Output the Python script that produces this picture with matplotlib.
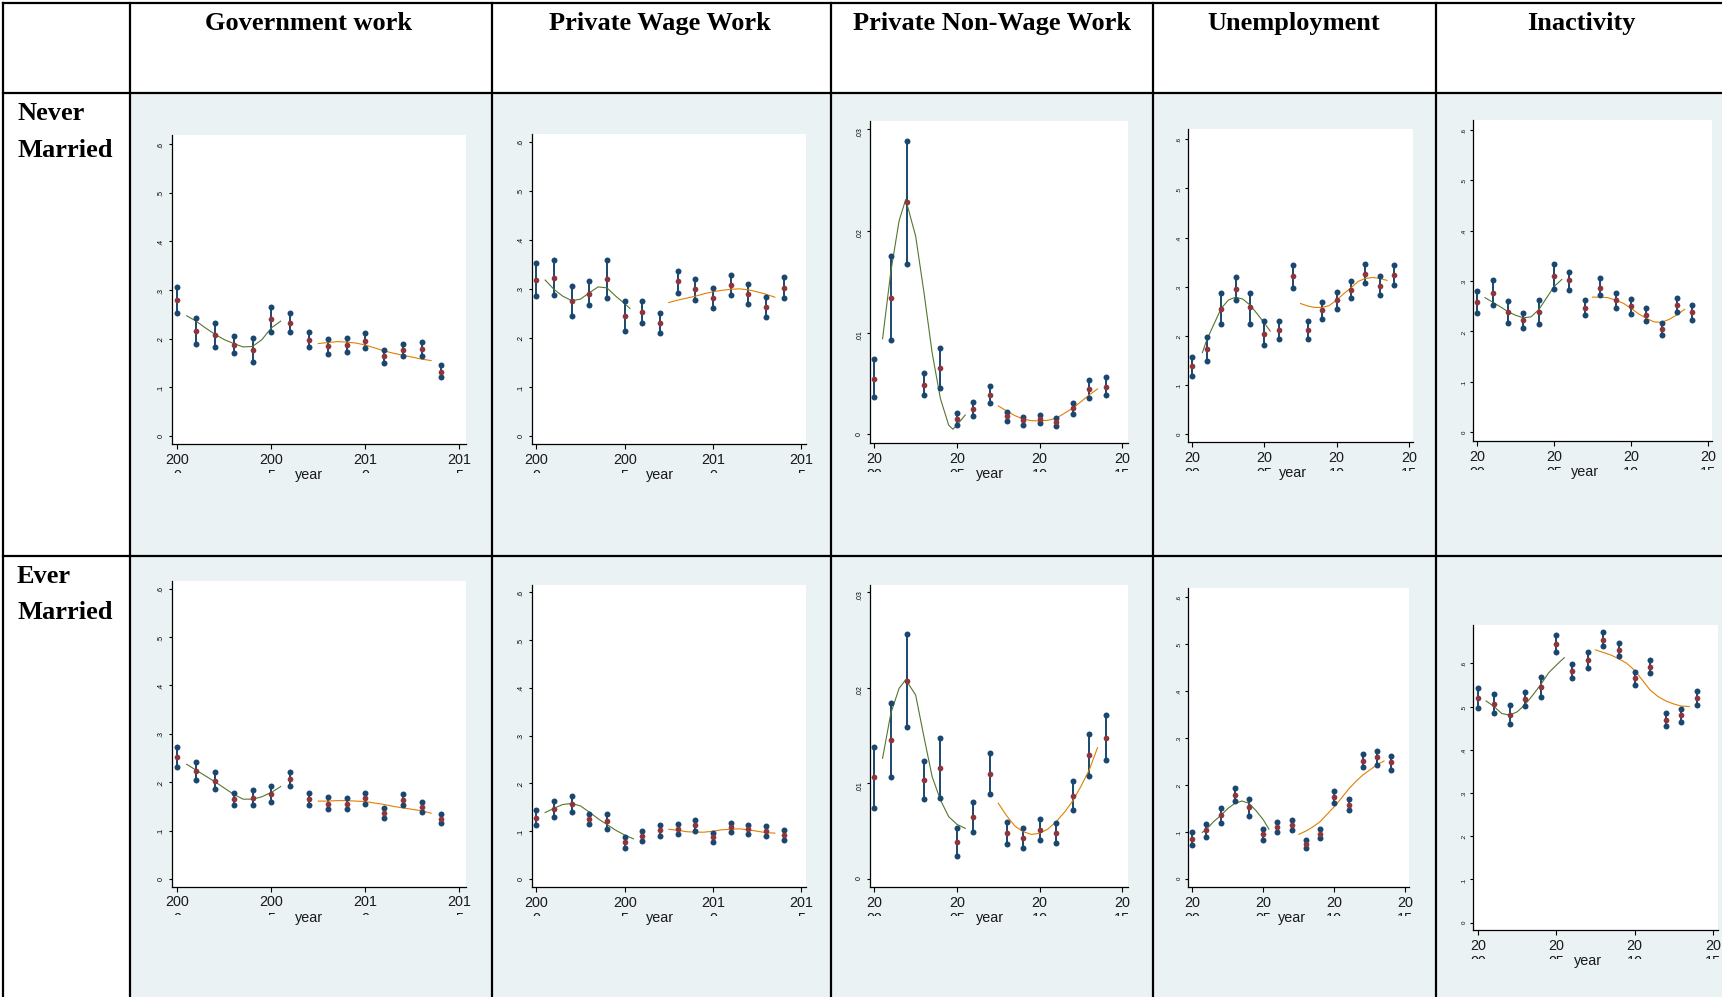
import matplotlib
matplotlib.use('Agg')
import matplotlib.pyplot as plt
from matplotlib.lines import Line2D
from matplotlib.patches import Rectangle
from matplotlib.transforms import offset_copy, Bbox, TransformedBbox, IdentityTransform

W, H = 1722, 997

years = [2000, 2001, 2002, 2003, 2004, 2005, 2006, 2007, 2008, 2009, 2010, 2011, 2012, 2013, 2014]
half_a = [2000.5, 2001, 2001.5, 2002, 2002.5, 2003, 2003.5, 2004, 2004.5, 2005, 2005.5]
half_b = [2007.5, 2008, 2008.5, 2009, 2009.5, 2010, 2010.5, 2011, 2011.5, 2012, 2012.5, 2013, 2013.5]

col_titles = ['Government work', 'Private Wage Work', 'Private Non-Wage Work', 'Unemployment', 'Inactivity']
row_titles = [['Never', 'Married'], ['Ever', 'Married']]

# ---- never married ----
gov_nm_lo = [0.252, 0.190, 0.182, 0.171, 0.152, 0.214, 0.214, 0.182, 0.169, 0.173, 0.180, 0.151, 0.164, 0.164, 0.121]
gov_nm_est = [0.279, 0.216, 0.208, 0.188, 0.177, 0.240, 0.233, 0.198, 0.184, 0.187, 0.196, 0.164, 0.177, 0.179, 0.132]
gov_nm_hi = [0.307, 0.242, 0.232, 0.205, 0.202, 0.265, 0.252, 0.214, 0.199, 0.202, 0.212, 0.176, 0.190, 0.194, 0.145]
gov_nm_fit_a = [0.247, 0.236, 0.222, 0.209, 0.198, 0.190, 0.183, 0.184, 0.198, 0.222, 0.236]
gov_nm_fit_b = [0.190, 0.192, 0.194, 0.193, 0.191, 0.187, 0.181, 0.175, 0.170, 0.166, 0.162, 0.158, 0.155]

pw_nm_lo = [0.285, 0.287, 0.245, 0.267, 0.282, 0.215, 0.231, 0.210, 0.292, 0.277, 0.260, 0.287, 0.270, 0.243, 0.281]
pw_nm_est = [0.319, 0.323, 0.276, 0.290, 0.321, 0.245, 0.253, 0.230, 0.315, 0.299, 0.281, 0.308, 0.289, 0.263, 0.302]
pw_nm_hi = [0.352, 0.359, 0.306, 0.315, 0.359, 0.275, 0.276, 0.251, 0.337, 0.321, 0.302, 0.329, 0.309, 0.283, 0.324]
pw_nm_fit_a_x = [2000.5, 2001, 2001.5, 2002, 2002.5, 2003, 2003.5, 2004, 2004.5, 2005, 2005.3]
pw_nm_fit_a = [0.318, 0.299, 0.285, 0.276, 0.279, 0.292, 0.304, 0.302, 0.285, 0.270, 0.260]
pw_nm_fit_b = [0.272, 0.277, 0.281, 0.285, 0.290, 0.294, 0.297, 0.299, 0.300, 0.298, 0.294, 0.289, 0.283]

pnw_nm_lo = [0.00364, 0.00925, 0.01675, 0.00384, 0.00452, 0.00089, 0.00184, 0.00305, 0.00131, 0.00092, 0.00108, 0.00082, 0.00203, 0.00361, 0.00387]
pnw_nm_est = [0.00548, 0.01338, 0.02282, 0.00489, 0.00649, 0.00148, 0.00246, 0.00387, 0.00177, 0.00138, 0.00148, 0.00125, 0.00256, 0.00446, 0.00469]
pnw_nm_hi = [0.00741, 0.01751, 0.02889, 0.00600, 0.00852, 0.00207, 0.00315, 0.00472, 0.00223, 0.00174, 0.00190, 0.00157, 0.00311, 0.00534, 0.00561]
pnw_nm_fit_a_x = [2000.5, 2001, 2001.5, 2001.9, 2002.5, 2003, 2003.5, 2004, 2004.5, 2004.75, 2005, 2005.5]
pnw_nm_fit_a = [0.0094, 0.0160, 0.0210, 0.0231, 0.0195, 0.0140, 0.0080, 0.0035, 0.0009, 0.0005, 0.0009, 0.0019]
pnw_nm_fit_b = [0.00279, 0.00230, 0.00184, 0.00151, 0.00134, 0.00131, 0.00138, 0.00157, 0.00207, 0.00256, 0.00321, 0.00387, 0.00446]

un_nm_lo = [0.119, 0.149, 0.224, 0.273, 0.225, 0.181, 0.193, 0.298, 0.193, 0.234, 0.254, 0.277, 0.308, 0.283, 0.304]
un_nm_est = [0.138, 0.173, 0.255, 0.296, 0.258, 0.205, 0.212, 0.321, 0.212, 0.252, 0.273, 0.294, 0.327, 0.302, 0.323]
un_nm_hi = [0.158, 0.197, 0.288, 0.319, 0.288, 0.231, 0.231, 0.344, 0.231, 0.270, 0.290, 0.312, 0.346, 0.321, 0.344]
un_nm_fit_a_x = [2000.7, 2001, 2001.5, 2002, 2002.5, 2003, 2003.5, 2004, 2004.5, 2005, 2005.4]
un_nm_fit_a = [0.166, 0.192, 0.224, 0.256, 0.273, 0.279, 0.275, 0.263, 0.245, 0.226, 0.210]
un_nm_fit_b = [0.266, 0.261, 0.258, 0.258, 0.262, 0.273, 0.286, 0.298, 0.311, 0.317, 0.319, 0.317, 0.313]

in_nm_lo = [0.237, 0.252, 0.217, 0.207, 0.215, 0.285, 0.283, 0.233, 0.272, 0.247, 0.235, 0.221, 0.192, 0.239, 0.223]
in_nm_est = [0.259, 0.276, 0.239, 0.222, 0.238, 0.309, 0.301, 0.247, 0.287, 0.262, 0.250, 0.233, 0.204, 0.252, 0.238]
in_nm_hi = [0.281, 0.301, 0.261, 0.237, 0.262, 0.333, 0.317, 0.263, 0.305, 0.276, 0.264, 0.246, 0.216, 0.267, 0.252]
in_nm_fit_a = [0.267, 0.258, 0.249, 0.239, 0.232, 0.227, 0.229, 0.243, 0.266, 0.289, 0.303]
in_nm_fit_b = [0.268, 0.268, 0.267, 0.262, 0.256, 0.246, 0.235, 0.226, 0.219, 0.218, 0.224, 0.233, 0.244]

# ---- ever married ----
gov_em_lo = [0.232, 0.205, 0.185, 0.153, 0.152, 0.159, 0.193, 0.152, 0.144, 0.144, 0.156, 0.127, 0.152, 0.138, 0.116]
gov_em_est = [0.252, 0.223, 0.203, 0.165, 0.168, 0.176, 0.206, 0.165, 0.156, 0.156, 0.167, 0.136, 0.163, 0.149, 0.125]
gov_em_hi = [0.273, 0.242, 0.221, 0.177, 0.184, 0.192, 0.221, 0.178, 0.169, 0.167, 0.178, 0.146, 0.176, 0.160, 0.135]
gov_em_fit_a = [0.237, 0.225, 0.213, 0.201, 0.188, 0.175, 0.165, 0.165, 0.170, 0.179, 0.191]
gov_em_fit_b = [0.161, 0.161, 0.162, 0.162, 0.161, 0.160, 0.157, 0.154, 0.150, 0.147, 0.144, 0.141, 0.136]

pw_em_lo = [0.113, 0.130, 0.140, 0.115, 0.105, 0.065, 0.080, 0.090, 0.094, 0.100, 0.077, 0.098, 0.094, 0.089, 0.082]
pw_em_est = [0.128, 0.147, 0.158, 0.126, 0.121, 0.077, 0.091, 0.102, 0.105, 0.112, 0.087, 0.108, 0.104, 0.100, 0.093]
pw_em_hi = [0.144, 0.164, 0.173, 0.137, 0.137, 0.088, 0.101, 0.113, 0.116, 0.123, 0.096, 0.118, 0.114, 0.110, 0.102]
pw_em_fit_a = [0.139, 0.148, 0.156, 0.158, 0.153, 0.140, 0.126, 0.114, 0.102, 0.092, 0.084]
pw_em_fit_b = [0.104, 0.102, 0.099, 0.098, 0.098, 0.100, 0.103, 0.104, 0.105, 0.103, 0.100, 0.097, 0.096]

pnw_em_lo = [0.00747, 0.01064, 0.01587, 0.00834, 0.00851, 0.00244, 0.00495, 0.00890, 0.00366, 0.00321, 0.00405, 0.00380, 0.00722, 0.01078, 0.01242]
pnw_em_est = [0.01064, 0.01451, 0.02072, 0.01033, 0.01165, 0.00387, 0.00649, 0.01102, 0.00481, 0.00426, 0.00516, 0.00481, 0.00869, 0.01298, 0.01479]
pnw_em_hi = [0.01385, 0.01845, 0.02560, 0.01235, 0.01479, 0.00530, 0.00802, 0.01319, 0.00600, 0.00537, 0.00624, 0.00583, 0.01022, 0.01514, 0.01713]
pnw_em_fit_a_x = [2000.5, 2001, 2001.5, 2001.9, 2002.5, 2003, 2003.5, 2004, 2004.5, 2005, 2005.5]
pnw_em_fit_a = [0.01263, 0.01734, 0.01995, 0.02085, 0.01926, 0.01490, 0.01070, 0.00827, 0.00652, 0.00572, 0.00530]
pnw_em_fit_b = [0.00792, 0.00663, 0.00555, 0.00495, 0.00467, 0.00478, 0.00523, 0.00600, 0.00698, 0.00816, 0.00970, 0.01141, 0.01374]

un_em_lo = [0.073, 0.089, 0.120, 0.166, 0.135, 0.082, 0.100, 0.104, 0.067, 0.087, 0.162, 0.146, 0.239, 0.243, 0.232]
un_em_est = [0.086, 0.104, 0.136, 0.179, 0.153, 0.095, 0.111, 0.115, 0.074, 0.096, 0.174, 0.158, 0.252, 0.259, 0.248]
un_em_hi = [0.099, 0.116, 0.152, 0.193, 0.170, 0.107, 0.121, 0.126, 0.083, 0.106, 0.187, 0.170, 0.267, 0.273, 0.262]
un_em_fit_a_x = [2000.7, 2001, 2001.5, 2002, 2002.5, 2003, 2003.5, 2004, 2004.5, 2005, 2005.4]
un_em_fit_a = [0.099, 0.106, 0.122, 0.135, 0.150, 0.161, 0.166, 0.161, 0.145, 0.126, 0.106]
un_em_fit_b = [0.095, 0.102, 0.111, 0.122, 0.138, 0.154, 0.172, 0.191, 0.207, 0.221, 0.232, 0.243, 0.251]

in_em_lo = [0.497, 0.485, 0.459, 0.502, 0.522, 0.625, 0.567, 0.590, 0.640, 0.616, 0.550, 0.578, 0.455, 0.464, 0.503]
in_em_est = [0.519, 0.507, 0.481, 0.518, 0.545, 0.645, 0.583, 0.607, 0.655, 0.631, 0.565, 0.592, 0.470, 0.480, 0.520]
in_em_hi = [0.542, 0.530, 0.503, 0.533, 0.569, 0.665, 0.599, 0.625, 0.672, 0.646, 0.581, 0.607, 0.484, 0.495, 0.536]
in_em_fit_a = [0.513, 0.500, 0.484, 0.480, 0.488, 0.505, 0.527, 0.551, 0.578, 0.596, 0.613]
in_em_fit_b = [0.631, 0.625, 0.619, 0.610, 0.600, 0.584, 0.561, 0.538, 0.523, 0.513, 0.506, 0.501, 0.500]

share_ticks = [0, 0.1, 0.2, 0.3, 0.4, 0.5, 0.6]
share_labels = ['0', '.1', '.2', '.3', '.4', '.5', '.6']
small_ticks = [0, 0.01, 0.02, 0.03]
small_labels = ['0', '.01', '.02', '.03']
xlab_long = (['200', '200', '201', '201'], ['0', '5', '0', '5'])
xlab_short = (['20', '20', '20', '20'], ['00', '05', '10', '15'])

NAVY = '#1a476f'
MAROON = '#90353b'
GREEN = '#55752f'
ORANGE = '#e37e00'
PANEL_BG = '#eaf2f3'

# page layout in pixels (from top-left)
col_x = [3, 130, 492, 831, 1153, 1436]
row_y = [3, 93, 556, 997]
col_centres = [309, 660, 992, 1294, 1581]

# per panel: plot area (left, top, right, bottom), pixel of x=2000 / x=2015,
# pixel of y=0 / top tick, top tick value, ylabel size
layout = [
    [((171.7, 135, 465.7, 444.3), (177.3, 459.3), (436, 144), 0.6, 5.2),
     ((531.7, 134, 806, 444.3), (536.3, 801.3), (436, 141.7), 0.6, 5.2),
     ((870, 121, 1127.7, 443.3), (874.3, 1122.3), (434.3, 129.3), 0.03, 5.0),
     ((1188.3, 129.3, 1413, 442.3), (1192.3, 1408.7), (434.3, 139.3), 0.6, 4.4),
     ((1473.3, 120, 1711.7, 441), (1477.3, 1707.7), (432.3, 129.7), 0.6, 4.4)],
    [((171.7, 580.7, 465.7, 886.7), (177.3, 459.3), (879, 588.7), 0.6, 5.2),
     ((531.7, 585, 806, 887.3), (536.3, 801.3), (879, 592.3), 0.6, 5.2),
     ((870, 585, 1127.7, 887.3), (874.3, 1122.3), (879, 592.3), 0.03, 5.0),
     ((1188.3, 588.3, 1409, 887.3), (1192.3, 1405.3), (879, 597), 0.6, 4.4),
     ((1473.3, 625, 1717.7, 930), (1478.3, 1712.7), (922.7, 663.3), 0.6, 4.4)],
]

panels = [
    [(gov_nm_lo, gov_nm_est, gov_nm_hi, half_a, gov_nm_fit_a, gov_nm_fit_b),
     (pw_nm_lo, pw_nm_est, pw_nm_hi, pw_nm_fit_a_x, pw_nm_fit_a, pw_nm_fit_b),
     (pnw_nm_lo, pnw_nm_est, pnw_nm_hi, pnw_nm_fit_a_x, pnw_nm_fit_a, pnw_nm_fit_b),
     (un_nm_lo, un_nm_est, un_nm_hi, un_nm_fit_a_x, un_nm_fit_a, un_nm_fit_b),
     (in_nm_lo, in_nm_est, in_nm_hi, half_a, in_nm_fit_a, in_nm_fit_b)],
    [(gov_em_lo, gov_em_est, gov_em_hi, half_a, gov_em_fit_a, gov_em_fit_b),
     (pw_em_lo, pw_em_est, pw_em_hi, half_a, pw_em_fit_a, pw_em_fit_b),
     (pnw_em_lo, pnw_em_est, pnw_em_hi, pnw_em_fit_a_x, pnw_em_fit_a, pnw_em_fit_b),
     (un_em_lo, un_em_est, un_em_hi, un_em_fit_a_x, un_em_fit_a, un_em_fit_b),
     (in_em_lo, in_em_est, in_em_hi, half_a, in_em_fit_a, in_em_fit_b)],
]

plt.rcParams['font.family'] = ['Liberation Sans', 'DejaVu Sans']

fig = plt.figure(figsize=(W / 100, H / 100), dpi=100)
fig.patch.set_facecolor('white')


def fy(py):
    return 1 - py / H


# shaded body cells
for r in range(2):
    for c in range(1, 6):
        x0 = col_x[c]
        x1 = col_x[c + 1] if c < 5 else W
        fig.add_artist(Rectangle((x0 / W, fy(row_y[r + 2])), (x1 - x0) / W,
                                 (row_y[r + 2] - row_y[r + 1]) / H,
                                 transform=fig.transFigure, facecolor=PANEL_BG,
                                 edgecolor='none', zorder=-5))

# table rules
for x in col_x:
    fig.add_artist(Line2D([x / W, x / W], [fy(row_y[0]), fy(H)], transform=fig.transFigure,
                          color='black', lw=1.6, zorder=5))
for y in row_y[:3]:
    fig.add_artist(Line2D([col_x[0] / W, 1], [fy(y), fy(y)], transform=fig.transFigure,
                          color='black', lw=1.6, zorder=5))

serif = dict(family=['Liberation Serif', 'DejaVu Serif'], weight='bold', size=19)
for name, cx in zip(col_titles, col_centres):
    fig.text(cx / W, fy(30), name, ha='center', va='baseline', **serif)
fig.text(17 / W, fy(120), row_titles[0][0], ha='left', va='baseline', **serif)
fig.text(17 / W, fy(157), row_titles[0][1], ha='left', va='baseline', **serif)
fig.text(17 / W, fy(583), row_titles[1][0], ha='left', va='baseline', **serif)
fig.text(17 / W, fy(619), row_titles[1][1], ha='left', va='baseline', **serif)

for r in range(2):
    for c in range(5):
        (left, top, right, bottom), xref, yref, ytop, ysize = layout[r][c]
        lo, est, hi, fa_x, fa, fb = panels[r][c]

        ax = fig.add_axes([left / W, fy(bottom), (right - left) / W, (bottom - top) / H])
        ppy = (xref[1] - xref[0]) / 15
        ax.set_xlim(2000 + (left - xref[0]) / ppy, 2000 + (right - xref[0]) / ppy)
        ppv = (yref[0] - yref[1]) / ytop
        ax.set_ylim(-(bottom - yref[0]) / ppv, (yref[0] - top) / ppv)

        ax.vlines(years, lo, hi, color=NAVY, lw=1.4, zorder=2)
        ax.plot(fa_x, fa, color=GREEN, lw=0.8, zorder=3)
        ax.plot(half_b, fb, color=ORANGE, lw=0.8, zorder=3)
        ax.plot(years, lo, 'o', color=NAVY, ms=4.3, mec='none', zorder=4)
        ax.plot(years, hi, 'o', color=NAVY, ms=4.3, mec='none', zorder=4)
        ax.plot(years, est, 'o', color=MAROON, ms=4.1, mec='none', zorder=5)

        for side in ['top', 'right']:
            ax.spines[side].set_visible(False)
        for side in ['left', 'bottom']:
            ax.spines[side].set_linewidth(0.9)

        if ytop < 0.1:
            ax.set_yticks(small_ticks, small_labels)
        else:
            ax.set_yticks(share_ticks, share_labels)
        ax.tick_params(axis='y', length=2.5, width=0.8, labelsize=ysize, pad=2.5,
                       labelrotation=90)
        ax.set_xticks([2000, 2005, 2010, 2015])
        ax.tick_params(axis='x', length=3.5, width=0.8, labelbottom=False)

        # year labels are two-line and cut off under the first line
        first, second = xlab_long if c < 2 else xlab_short
        xt = ax.get_xaxis_transform()
        clip = TransformedBbox(Bbox.from_extents(0, H - (bottom + 28.5), W, H),
                               IdentityTransform())
        for xv, t1, t2 in zip([2000, 2005, 2010, 2015], first, second):
            fig.text(xv, 0, t1, transform=offset_copy(xt, fig=fig, y=-19.5, units='dots'),
                     ha='center', va='baseline', fontsize=10.4, color='#1a1a1a')
            t = fig.text(xv, 0, t2, transform=offset_copy(xt, fig=fig, y=-36, units='dots'),
                         ha='center', va='baseline', fontsize=10.4, color='#1a1a1a')
            t.set_clip_box(clip)
            t.set_clip_on(True)
        fig.text(2007, 0, 'year', transform=offset_copy(xt, fig=fig, y=-35, units='dots'),
                 ha='center', va='baseline', fontsize=10.4, color='#1a1a1a')

fig.savefig('out.png', dpi=100)
